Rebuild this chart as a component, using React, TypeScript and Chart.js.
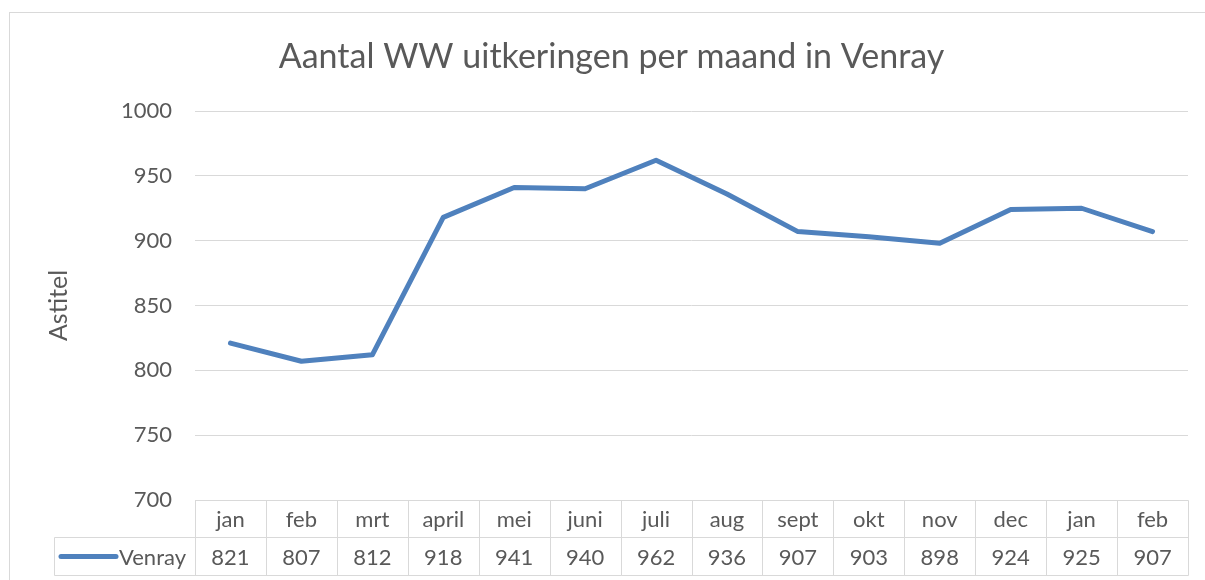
import React, { useEffect, useRef } from "react";
import { Chart, registerables } from "chart.js";

Chart.register(...registerables);

const chartTitle = "Aantal WW uitkeringen per maand in Venray";
const yAxisTitle = "Astitel";
const seriesName = "Venray";
const categories = ["jan", "feb", "mrt", "april", "mei", "juni", "juli", "aug", "sept", "okt", "nov", "dec", "jan", "feb"];
const venray = [821, 807, 812, 918, 941, 940, 962, 936, 907, 903, 898, 924, 925, 907];
const yMin = 700;
const yMax = 1000;
const yStep = 50;

const TEXT = "#595959";
const GRID = "#d9d9d9";
const LINE = "#4f81bd";
const FONT = "Lato, 'Open Sans', sans-serif";

const frame = {
  id: "frame",
  beforeDraw(chart: any) {
    const { ctx } = chart;
    ctx.save();
    ctx.fillStyle = "#ffffff";
    ctx.fillRect(0, 0, chart.width, chart.height);
    ctx.strokeStyle = GRID;
    ctx.lineWidth = 1;
    ctx.strokeRect(9.5, 12.5, 1400, 800);
    ctx.fillStyle = TEXT;
    ctx.font = `34px ${FONT}`;
    ctx.textAlign = "center";
    ctx.textBaseline = "alphabetic";
    ctx.fillText(chartTitle, 611.5, 68);
    ctx.restore();
  },
};

const dataTable = {
  id: "dataTable",
  afterDraw(chart: any) {
    const { ctx, chartArea, scales } = chart;
    const xs = scales.x;
    const n = categories.length;
    const colW = (chartArea.right - chartArea.left) / n;
    const r0 = Math.round(chartArea.bottom) + 0.5;
    const r1 = r0 + 37;
    const r2 = r1 + 38;
    const legendLeft = 54.5;
    const right = Math.round(chartArea.right) + 0.5;
    const line = (x1: number, y1: number, x2: number, y2: number) => {
      ctx.beginPath();
      ctx.moveTo(x1, y1);
      ctx.lineTo(x2, y2);
      ctx.stroke();
    };
    ctx.save();
    ctx.strokeStyle = GRID;
    ctx.lineWidth = 1;
    line(Math.round(chartArea.left) + 0.5, r0, right, r0);
    line(legendLeft, r1, right, r1);
    line(legendLeft, r2, right, r2);
    line(legendLeft, r1, legendLeft, r2);
    for (let k = 0; k <= n; k++) {
      const c = k < n ? xs.getPixelForValue(k) - colW / 2 : xs.getPixelForValue(n - 1) + colW / 2;
      const xx = Math.round(c) + 0.5;
      line(xx, r0, xx, r2);
    }
    ctx.fillStyle = TEXT;
    ctx.font = `22px ${FONT}`;
    ctx.textAlign = "center";
    ctx.textBaseline = "middle";
    categories.forEach((c, i) => {
      const cx = xs.getPixelForValue(i);
      ctx.fillText(c, cx, (r0 + r1) / 2 + 1);
      ctx.fillText(String(venray[i]), cx, (r1 + r2) / 2 + 1);
    });
    // legend key
    ctx.strokeStyle = LINE;
    ctx.lineWidth = 5;
    ctx.lineCap = "round";
    line(61, (r1 + r2) / 2, 116, (r1 + r2) / 2);
    ctx.textAlign = "left";
    ctx.fillText(seriesName, 119, (r1 + r2) / 2 + 1);
    ctx.restore();
  },
};

export default function App() {
  const ref = useRef<HTMLCanvasElement>(null);
  useEffect(() => {
    document.body.style.margin = "0";
    const chart = new Chart(ref.current as HTMLCanvasElement, {
      type: "line",
      data: {
        labels: categories,
        datasets: [
          {
            label: seriesName,
            data: venray,
            borderColor: LINE,
            backgroundColor: LINE,
            borderWidth: 5,
            pointRadius: 0,
            tension: 0,
            borderCapStyle: "round",
            borderJoinStyle: "round",
          },
        ],
      },
      options: {
        animation: false,
        responsive: false,
        devicePixelRatio: 1,
        layout: { autoPadding: false, padding: { top: 111, left: 0, right: 17, bottom: 80 } },
        plugins: { legend: { display: false }, title: { display: false }, tooltip: { enabled: false } },
        scales: {
          x: { type: "category", display: false, offset: true },
          y: {
            min: yMin,
            max: yMax,
            afterFit(scale: any) {
              scale.width = 195;
            },
            ticks: {
              stepSize: yStep,
              padding: 23,
              color: TEXT,
              font: { family: FONT, size: 22 },
              callback: (v: any) => String(v),
            },
            grid: { color: GRID, lineWidth: 1, drawTicks: false },
            border: { display: false },
            title: {
              display: true,
              text: yAxisTitle,
              color: TEXT,
              font: { family: FONT, size: 25 },
              padding: { top: 44, bottom: 0 },
            },
          },
        },
      },
      plugins: [frame, dataTable],
    } as any);
    return () => chart.destroy();
  }, []);
  return <canvas ref={ref} width={1205} height={580} style={{ display: "block", width: 1205, height: 580 }} />;
}
